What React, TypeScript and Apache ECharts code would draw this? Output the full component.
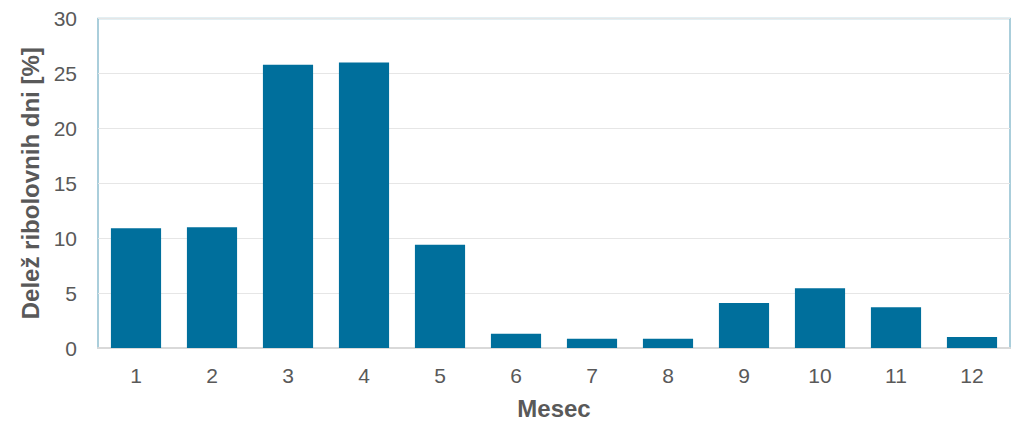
import React, { useEffect, useRef } from "react";
import * as echarts from "echarts";

const months = ["1", "2", "3", "4", "5", "6", "7", "8", "9", "10", "11", "12"];
const shares = [10.9, 11.0, 25.8, 26.0, 9.4, 1.3, 0.85, 0.85, 4.1, 5.45, 3.7, 1.0];
const yAxisName = "Delež ribolovnih dni [%]";
const xAxisName = "Mesec";

export default function App() {
  const ref = useRef<HTMLDivElement>(null);
  useEffect(() => {
    if (!ref.current) return;
    const chart = echarts.init(ref.current, undefined, { renderer: "svg" });
    const font = "'Liberation Sans', Arial, sans-serif";
    chart.setOption({
      animation: false,
      grid: {
        left: 90,
        right: 15,
        top: 7,
        bottom: 85,
        show: true,
        borderColor: "#8fbfd0",
        borderWidth: 1.5,
        backgroundColor: "transparent",
      },
      xAxis: {
        type: "category",
        data: months,
        name: xAxisName,
        nameLocation: "middle",
        nameGap: 48,
        nameTextStyle: { fontFamily: font, fontSize: 24, fontWeight: "bold", color: "#595959" },
        axisLine: { show: true, lineStyle: { color: "#d9d9d9", width: 2 } },
        axisTick: { show: false },
        axisLabel: { fontFamily: font, fontSize: 21, color: "#595959", margin: 17 },
      },
      yAxis: {
        type: "value",
        min: 0,
        max: 30,
        interval: 5,
        name: yAxisName,
        nameLocation: "middle",
        nameGap: 52,
        nameTextStyle: { fontFamily: font, fontSize: 24, fontWeight: "bold", color: "#595959" },
        axisLine: { show: false },
        axisTick: { show: false },
        axisLabel: { fontFamily: font, fontSize: 21, color: "#595959", margin: 21 },
        splitLine: { lineStyle: { color: "#e6e6e6", width: 1 } },
      },
      series: [
        {
          type: "bar",
          data: shares,
          barWidth: "66%",
          itemStyle: { color: "#006f9c" },
        },
      ],
    });
    return () => chart.dispose();
  }, []);
  return <div ref={ref} style={{ width: 1017, height: 425 }} />;
}
